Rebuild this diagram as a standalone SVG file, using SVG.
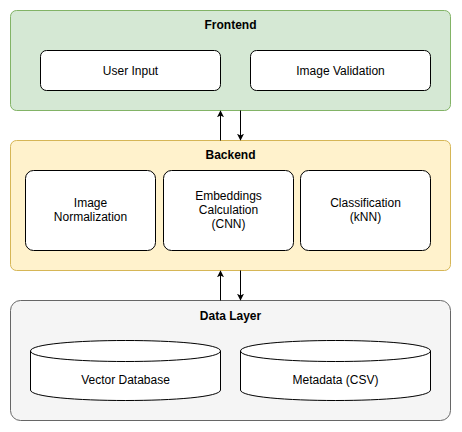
<svg xmlns="http://www.w3.org/2000/svg" width="462" height="432" viewBox="0 0 462 432">
<style>
text{font-family:"Liberation Sans",Arial,sans-serif;font-size:12px;fill:#000;text-anchor:middle}
.t{font-weight:bold}
.box{fill:#fff;stroke:#000;stroke-width:1}
.cyl{fill:#fff;stroke:#000;stroke-width:1}
.edge{stroke:#000;stroke-width:1;fill:none}
</style>
<defs>
<marker id="ah" viewBox="0 0 10 10" refX="9" refY="5" markerWidth="7" markerHeight="7" markerUnits="userSpaceOnUse" orient="auto">
<path d="M0,0 L10,5 L0,10 L2.5,5 Z" fill="#000"/>
</marker>
</defs>
<g id="frontend">
<rect x="10.5" y="10.5" width="440" height="100" rx="6" fill="#d5e8d4" stroke="#82b366"/>
<text class="t" x="230.5" y="29">Frontend</text>
</g>
<g id="user-input">
<rect class="box" x="40.5" y="50.5" width="180" height="40" rx="6"/>
<text x="130.5" y="74.5">User Input</text>
</g>
<g id="image-validation">
<rect class="box" x="250.5" y="50.5" width="180" height="40" rx="6"/>
<text x="340.5" y="74.5">Image Validation</text>
</g>
<g id="backend">
<rect x="10.5" y="140.5" width="440" height="130" rx="6" fill="#fff2cc" stroke="#d6b656"/>
<text class="t" x="230.5" y="159">Backend</text>
</g>
<g id="image-normalization">
<rect class="box" x="25.5" y="170.5" width="130" height="80" rx="8"/>
<text x="90.5" y="207">Image</text>
<text x="90.5" y="221">Normalization</text>
</g>
<g id="embeddings">
<rect class="box" x="163.5" y="170.5" width="130" height="80" rx="8"/>
<text x="228.5" y="200">Embeddings</text>
<text x="228.5" y="214">Calculation</text>
<text x="228.5" y="228">(CNN)</text>
</g>
<g id="classification">
<rect class="box" x="300.5" y="170.5" width="130" height="80" rx="8"/>
<text x="365.5" y="207">Classification</text>
<text x="365.5" y="221">(kNN)</text>
</g>
<g id="data-layer">
<rect x="10.5" y="300.5" width="440" height="120" rx="10" fill="#f5f5f5" stroke="#666666"/>
<text class="t" x="230.5" y="320">Data Layer</text>
</g>
<g id="vector-database">
<path class="cyl" d="M30.5,351 C30.5,337 220.5,337 220.5,351 L220.5,390 C220.5,404 30.5,404 30.5,390 Z"/>
<path class="edge" d="M30.5,351 C30.5,365 220.5,365 220.5,351"/>
<text x="125.5" y="384">Vector Database</text>
</g>
<g id="metadata">
<path class="cyl" d="M240.5,351 C240.5,337 430.5,337 430.5,351 L430.5,390 C430.5,404 240.5,404 240.5,390 Z"/>
<path class="edge" d="M240.5,351 C240.5,365 430.5,365 430.5,351"/>
<text x="335.5" y="384">Metadata (CSV)</text>
</g>
<g id="connectors">
<path class="edge" d="M220.5,140.5 L220.5,111" marker-end="url(#ah)"/>
<path class="edge" d="M240.5,110.5 L240.5,140" marker-end="url(#ah)"/>
<path class="edge" d="M220.5,300.5 L220.5,271" marker-end="url(#ah)"/>
<path class="edge" d="M240.5,270.5 L240.5,300" marker-end="url(#ah)"/>
</g>
</svg>
